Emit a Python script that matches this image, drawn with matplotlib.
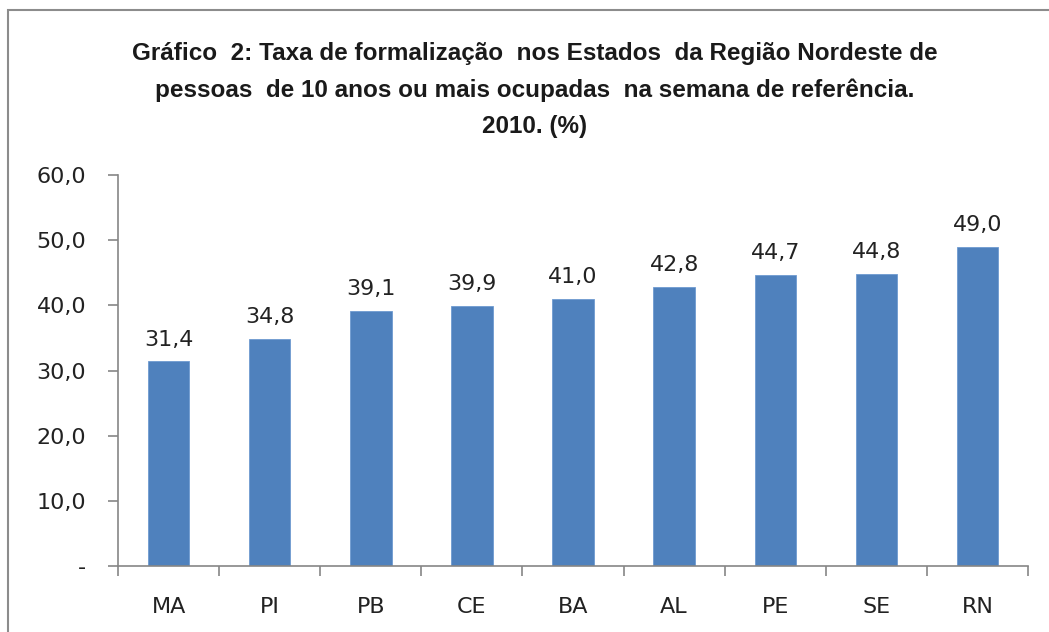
import matplotlib
matplotlib.use('Agg')
import matplotlib.pyplot as plt
from matplotlib.patches import Rectangle
from matplotlib.ticker import FuncFormatter, FixedLocator

# dados do gráfico
estados = ['MA', 'PI', 'PB', 'CE', 'BA', 'AL', 'PE', 'SE', 'RN']
taxas = [31.4, 34.8, 39.1, 39.9, 41.0, 42.8, 44.7, 44.8, 49.0]
y_ticks = [0, 10, 20, 30, 40, 50, 60]

titulo = ('Gráfico  2: Taxa de formalização  nos Estados  da Região Nordeste de\n'
          'pessoas  de 10 anos ou mais ocupadas  na semana de referência.\n'
          '2010. (%)')

cor_barra = '#4F81BD'
cor_eixo = '#868686'
fs = 16

fig = plt.figure(figsize=(10.49, 6.32), dpi=100)
ax = fig.add_axes([0.1125, 0.1044, 0.8675, 0.6187])

# moldura do gráfico
fig.patches.append(Rectangle((8 / 1049, -0.1), 1.2, 1 - 10 / 632 + 0.1,
                             transform=fig.transFigure, fill=False,
                             edgecolor='#8c8c8c', linewidth=1.5))

x = range(len(estados))
bars = ax.bar(x, taxas, width=0.41, color=cor_barra, edgecolor='#6f9bd1', linewidth=0.6)

for b, v in zip(bars, taxas):
    ax.text(b.get_x() + b.get_width() / 2, v + 1.8, f'{v:.1f}'.replace('.', ','),
            ha='center', va='bottom', fontsize=fs, color='#222222')

ax.set_xlim(-0.5, len(estados) - 0.5)
ax.set_ylim(0, 60)
ax.yaxis.set_major_locator(FixedLocator(y_ticks))
ax.yaxis.set_major_formatter(FuncFormatter(
    lambda v, p: '-' if v == 0 else f'{v:.1f}'.replace('.', ',')))

ax.set_xticks(list(x))
ax.set_xticklabels(estados)
ax.xaxis.set_minor_locator(FixedLocator([i - 0.5 for i in range(len(estados) + 1)]))
ax.tick_params(axis='x', which='major', length=0, pad=22, labelsize=fs, labelcolor='#222222')
ax.tick_params(axis='x', which='minor', length=7, width=1.2, color=cor_eixo, direction='out')
ax.tick_params(axis='y', length=7, width=1.2, color=cor_eixo, pad=16,
               labelsize=fs, labelcolor='#222222')

for s in ['top', 'right']:
    ax.spines[s].set_visible(False)
for s in ['left', 'bottom']:
    ax.spines[s].set_color(cor_eixo)
    ax.spines[s].set_linewidth(1.2)

fig.text(0.51, 0.934, titulo, ha='center', va='top', fontsize=17.5,
         fontweight='bold', linespacing=1.73, color='#1a1a1a',
         family='Liberation Sans')

fig.savefig('out.png', dpi=100)
